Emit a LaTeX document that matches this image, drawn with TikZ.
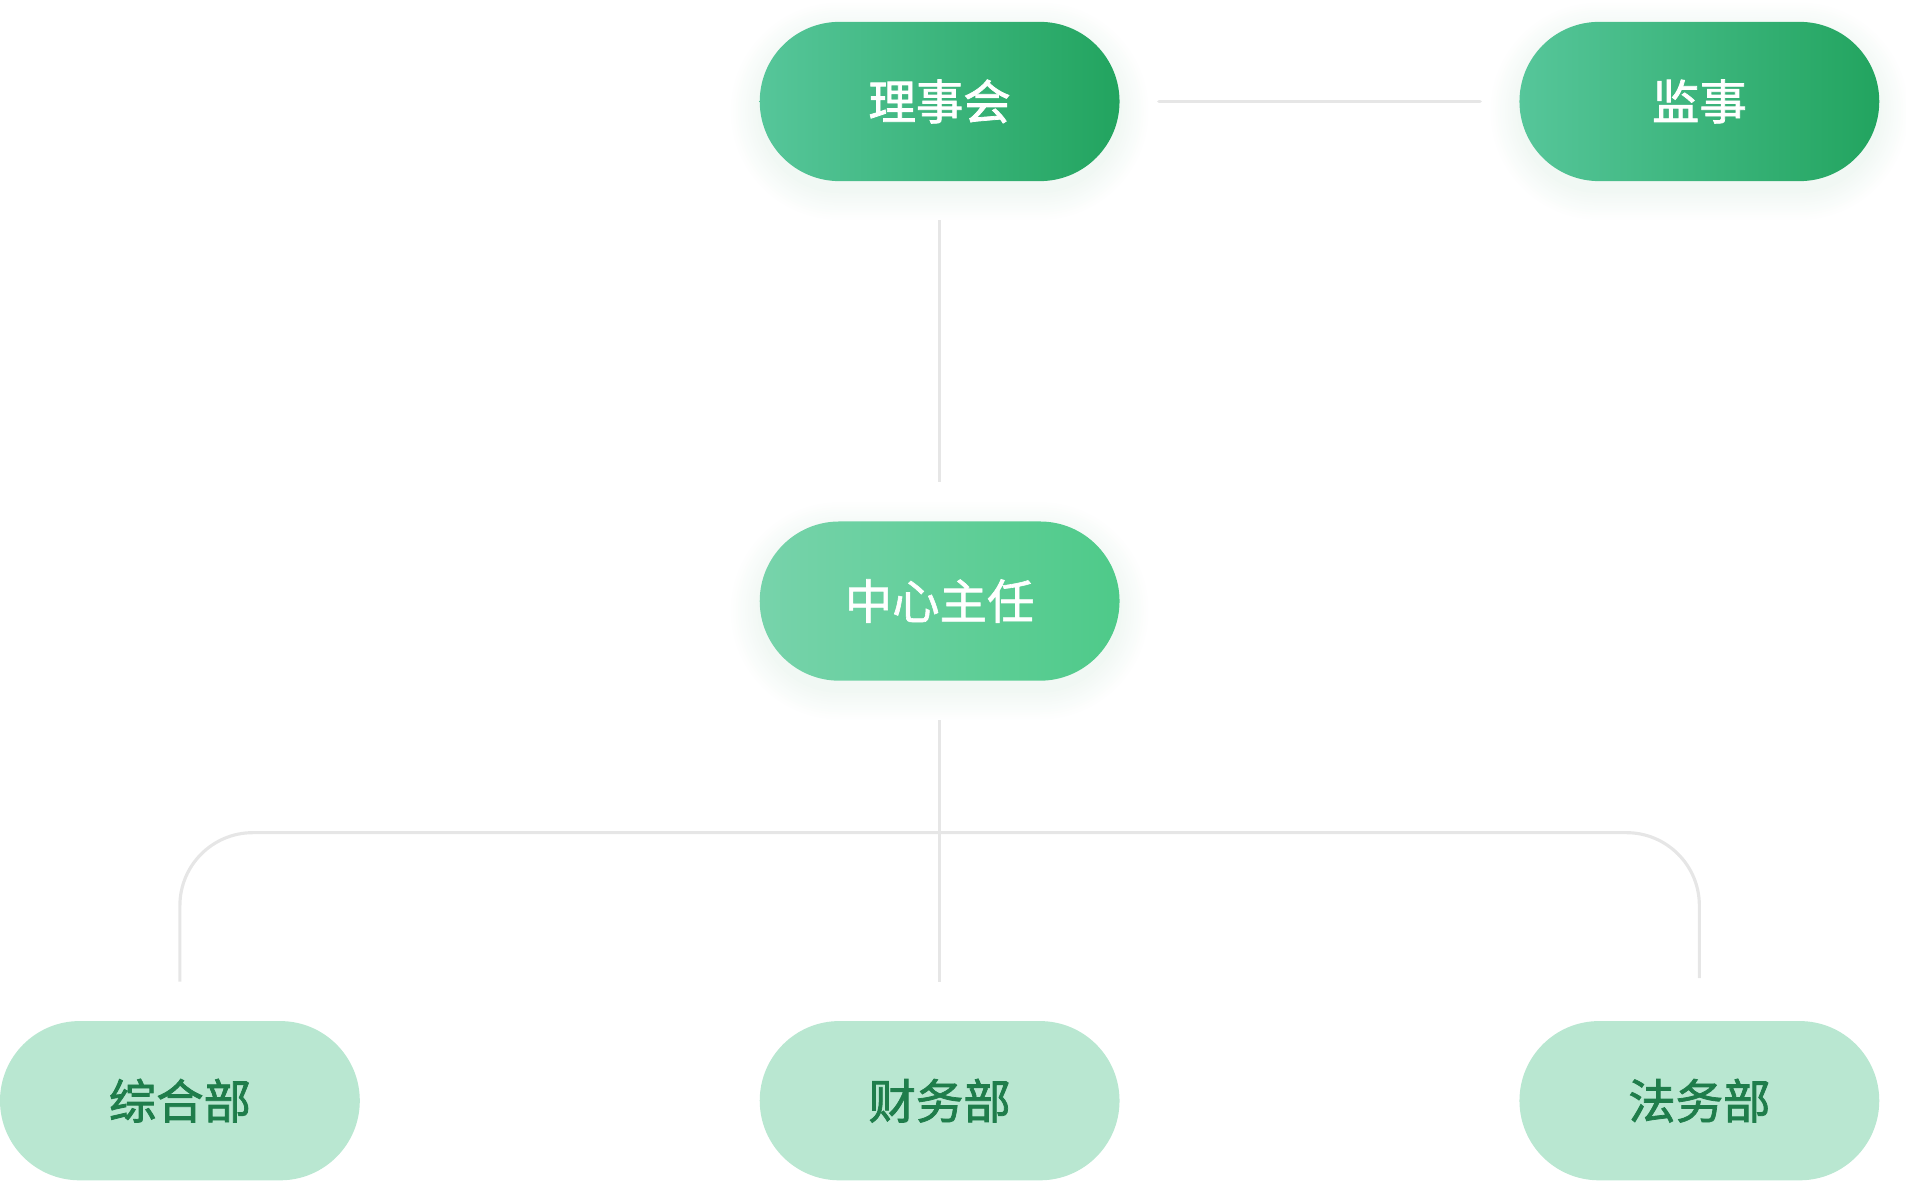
\documentclass[tikz,border=0pt]{standalone}
\usepackage{fontspec}
\newfontfamily\cjk{Noto Sans CJK SC}[FakeBold=1.6]
\newfontfamily\cjkm{Noto Sans CJK SC}[FakeBold=1.3]
\newfontfamily\cjkb{Noto Sans CJK SC}[FakeBold=1.6]
\usetikzlibrary{shapes.misc}
\definecolor{topL}{HTML}{56C69A}
\definecolor{topR}{HTML}{22A45F}
\definecolor{midL}{HTML}{77D3AB}
\definecolor{midR}{HTML}{4ECA89}
\definecolor{botF}{HTML}{B9E7D1}
\definecolor{botT}{HTML}{1F7D4B}
\definecolor{lineC}{HTML}{E6E6E6}
\definecolor{glowC}{HTML}{6FB58F}
\tikzset{
  pill/.style={rounded rectangle, minimum width=148pt, minimum height=65.5pt, inner sep=0pt, draw=none,
    font=\cjk\fontsize{19.5}{20}\selectfont},
  topbox/.style={pill, left color=topL, right color=topR, text=white},
  midbox/.style={pill, left color=midL, right color=midR, text=white, font=\cjkm\fontsize{19.5}{20}\selectfont},
  botbox/.style={pill, fill=botF, text=botT, font=\cjkb\fontsize{19.5}{20}\selectfont},
  conn/.style={draw=lineC, line width=1.1pt},
}
\newcommand{\glowat}[2]{%
  \foreach \r in {1,...,12}{%
    \fill[glowC, opacity=0.009, rounded corners={(65.5+2*\r)*0.5pt}]
      ({#1-148-2*\r},{#2-65.5-2*\r+8}) rectangle ({#1+148+2*\r},{#2+65.5+2*\r+8});
  }}
\begin{document}
\begin{tikzpicture}[x=0.5pt,y=-0.5pt]
\useasboundingbox (0,0) rectangle (1568,972);
\glowat{773}{83.5}
\glowat{1398}{83.5}
\glowat{773}{494.5}
\node[topbox] (lsh) at (773,83.5) {理事会};
\node[topbox] (js) at (1398,83.5) {监事};
\node[midbox] (zr) at (773,494.5) {中心主任};
\node[botbox] (zh) at (148,905.5) {综合部};
\node[botbox] (cw) at (773,905.5) {财务部};
\node[botbox] (fw) at (1398,905.5) {法务部};
\coordinate (bar) at (773,685);
\draw[conn, line width=1.5pt, line cap=round, shorten <=16pt, shorten >=16pt] (lsh.east) -- (js.west);
\draw[conn, shorten <=16pt, shorten >=16pt] (lsh.south) -- (zr.north);
\draw[conn, shorten <=16pt, shorten >=16pt] (zr.south) -- (cw.north);
\draw[conn, line width=1.3pt, rounded corners=30pt] ([yshift=16pt]zh.north) -- (zh.north |- bar) -- (fw.north |- bar) -- ([yshift=17.5pt]fw.north);
\end{tikzpicture}
\end{document}
